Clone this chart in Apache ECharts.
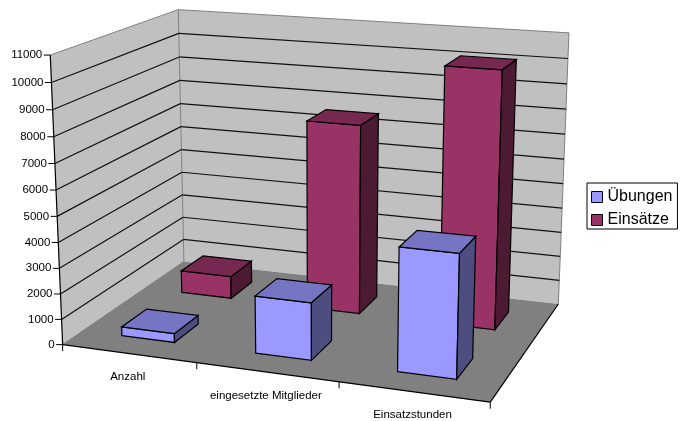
<!DOCTYPE html>
<html><head><meta charset="utf-8">
<style>html,body{margin:0;padding:0;background:#fff}#c{width:685px;height:421px}</style>
<script src="https://cdn.jsdelivr.net/npm/echarts@6/dist/echarts.min.js"></script>
</head><body><div id="c"></div>
<script>
var categories = ['Anzahl', 'eingesetzte Mitglieder', 'Einsatzstunden'];
var uebungen = [350, 2220, 4680];
var einsaetze = [920, 7620, 10150];
var yTicks = [0,1000,2000,3000,4000,5000,6000,7000,8000,9000,10000,11000];
var seriesNames = ['Übungen', 'Einsätze'];

// camera calibration: unit-cube corner -> screen
var calib = [
 [0,0,0,62.5,344],[1,0,0,490,402],[1,0,1,558.5,303.3],[0,0,1,184,261.7],
 [0,1,0,50.5,55],[0,1,1,178,9.5],[1,1,1,569,33],
 [0,5/11,0,57.2,216],[0,5/11,1,181.4,150],[1,5/11,1,563.1,183.7],
 [1/3,0,0,197,363],[2/3,0,0,339,382.7]
];
function solveCamera(pts){
  var n=11,A=[],i,j,k;
  for(i=0;i<n;i++){A.push(new Array(n+1).fill(0));}
  function add(r,b){for(var a=0;a<n;a++){for(var c=0;c<n;c++)A[a][c]+=r[a]*r[c];A[a][n]+=r[a]*b;}}
  pts.forEach(function(p){
    var X=p[0],Y=p[1],Z=p[2],u=p[3],v=p[4];
    add([X,Y,Z,1,0,0,0,0,-u*X,-u*Y,-u*Z],u);
    add([0,0,0,0,X,Y,Z,1,-v*X,-v*Y,-v*Z],v);
  });
  for(i=0;i<n;i++){
    var m=i;for(j=i+1;j<n;j++)if(Math.abs(A[j][i])>Math.abs(A[m][i]))m=j;
    var t=A[i];A[i]=A[m];A[m]=t;
    for(j=i+1;j<n;j++){var f=A[j][i]/A[i][i];for(k=i;k<=n;k++)A[j][k]-=f*A[i][k];}
  }
  var x=new Array(n);
  for(i=n-1;i>=0;i--){var s=A[i][n];for(j=i+1;j<n;j++)s-=A[i][j]*x[j];x[i]=s/A[i][i];}
  return x;
}
var P=solveCamera(calib);
function proj(X,Y,Z){
  var w=P[8]*X+P[9]*Y+P[10]*Z+1;
  return [(P[0]*X+P[1]*Y+P[2]*Z+P[3])/w,(P[4]*X+P[5]*Y+P[6]*Z+P[7])/w];
}
var FONT_AXIS='11.5px "Liberation Sans", Arial, sans-serif';
function norm(params,api,cat,val){
  var c=api.coord([cat,val]),cs=params.coordSys;
  return [(c[0]-cs.x)/cs.width,(cs.y+cs.height-c[1])/cs.height];
}
function poly(points,fill,stroke,lw){
  return {type:'polygon',shape:{points:points},style:{fill:fill,stroke:stroke||null,lineWidth:lw||0}};
}
function line(a,b,stroke,lw){
  return {type:'line',shape:{x1:a[0],y1:a[1],x2:b[0],y2:b[1]},style:{stroke:stroke,lineWidth:lw||1,fill:null}};
}
function renderWalls(){
  var wall='#C0C0C0',edge='#808080';
  var A=proj(0,0,0),B=proj(1,0,0),C=proj(1,0,1),D=proj(0,0,1),E=proj(0,1,0),F=proj(0,1,1),G=proj(1,1,1);
  return {type:'group',children:[
    poly([A,E,F,D],wall),poly([D,F,G,C],wall),poly([A,B,C,D],'#808080'),
    line(E,F,edge),line(F,G,edge),line(F,D,edge),line(G,C,edge,1),line(A,D,edge)
  ]};
}
function renderTick(params,api){
  var y=norm(params,api,0,api.value(0))[1];
  var a=proj(0,y,0),b=proj(0,y,1),c=proj(1,y,1),kids=[];
  if(y>0.001&&y<0.999){kids.push(line(a,b,'#111',1.2),line(b,c,'#111',1.2));}
  kids.push(line([a[0]-6.5,a[1]],a,'#000',1));
  kids.push({type:'text',style:{text:String(yTicks[params.dataIndex]),x:a[0]-8,y:a[1],align:'right',verticalAlign:'middle',fill:'#000',font:FONT_AXIS}});
  return {type:'group',children:kids};
}
function renderAxisEdges(){
  var A=proj(0,0,0),B=proj(1,0,0),C=proj(1,0,1),E=proj(0,1,0);
  var kids=[line(A,E,'#000',1.2),line(A,B,'#000',1.2),line(B,C,'#000',1.2)];
  for(var i=0;i<=categories.length;i++){
    var t=proj(i/categories.length,0,0);
    kids.push(line(t,[t[0],t[1]+6.5],'#000',1));
  }
  return {type:'group',children:kids};
}
function renderCat(params,api){
  var i=api.value(0),n=norm(params,api,i,0);
  var p=proj(n[0],0,0);
  return {type:'text',style:{text:categories[i],x:p[0]-1,y:p[1]+23.5,align:'center',verticalAlign:'middle',fill:'#000',font:FONT_AXIS}};
}
function barRenderer(z0,z1,front,top,side){
  return function(params,api){
    var i=api.value(0),v=api.value(1),n=norm(params,api,i,v),cs=params.coordSys;
    var bw=api.size([1,0])[0]/cs.width*0.4;
    var x0=n[0]-bw/2,x1=n[0]+bw/2,h=n[1],s={stroke:'#000',lw:1.2};
    var a=proj(x0,0,z0),b=proj(x1,0,z0),c=proj(x1,h,z0),d=proj(x0,h,z0),
        e=proj(x1,0,z1),f=proj(x1,h,z1),g=proj(x0,h,z1);
    return {type:'group',children:[
      poly([a,b,c,d],front,s.stroke,s.lw),
      poly([b,e,f,c],side,s.stroke,s.lw),
      poly([d,c,f,g],top,s.stroke,s.lw)
    ]};
  };
}
function pairs(arr){return arr.map(function(v,i){return [i,v];});}
var chart=echarts.init(document.getElementById('c'),null,{renderer:'canvas'});
chart.setOption({
  animation:false,backgroundColor:'#fff',
  grid:{left:0,top:0,right:0,bottom:0},
  xAxis:{type:'category',data:categories,show:false},
  yAxis:{type:'value',min:0,max:11000,interval:1000,show:false},
  legend:{
    data:seriesNames,left:587,top:183,orient:'vertical',icon:'rect',
    itemWidth:11,itemHeight:11,itemGap:7,padding:[6,5,1,4],
    borderColor:'#000',borderWidth:1,backgroundColor:'#fff',
    textStyle:{fontFamily:'"Liberation Sans", Arial, sans-serif',fontSize:16,color:'#000'},
    itemStyle:{borderColor:'#000',borderWidth:1}
  },
  series:[
    {type:'custom',name:'walls',silent:true,clip:false,data:[[0,0]],renderItem:renderWalls},
    {type:'custom',name:'ticks',silent:true,clip:false,data:yTicks.map(function(v){return [v];}),encode:{y:0},renderItem:function(p,a){
      return renderTick(p,{value:a.value,coord:function(c){return a.coord([0,yTicks[p.dataIndex]]);}});
    }},
    {type:'custom',name:'edges',silent:true,clip:false,data:[[0,0]],renderItem:renderAxisEdges},
    {type:'custom',name:'cats',silent:true,clip:false,data:categories.map(function(c,i){return [i,0];}),renderItem:renderCat},
    {type:'custom',name:'Einsätze',clip:false,itemStyle:{color:'#993366',borderColor:'#000',borderWidth:1},
     encode:{x:0,y:1},data:pairs(einsaetze),renderItem:barRenderer(0.65,0.85,'#993366','#772850','#4D1A33')},
    {type:'custom',name:'Übungen',clip:false,itemStyle:{color:'#9999FF',borderColor:'#000',borderWidth:1},
     encode:{x:0,y:1},data:pairs(uebungen),renderItem:barRenderer(0.15,0.35,'#9999FF','#7575C4','#4D4D80')}
  ]
});
</script></body></html>
